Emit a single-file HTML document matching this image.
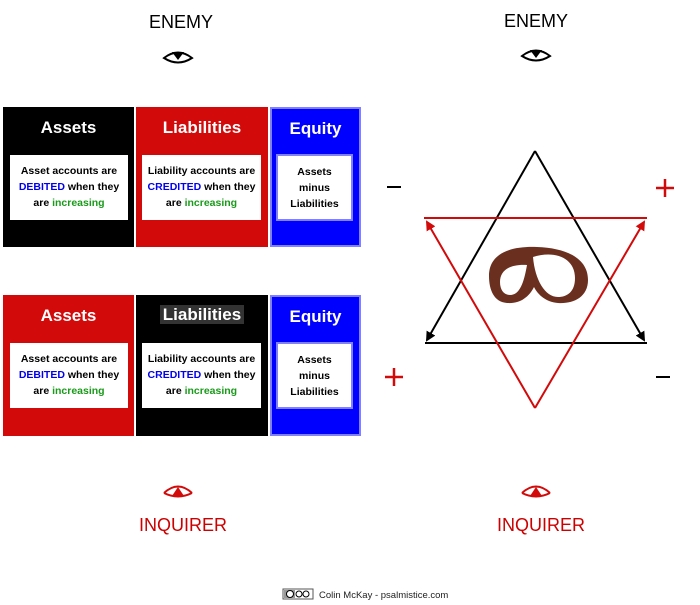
<!DOCTYPE html>
<html><head><meta charset="utf-8"><style>
body{margin:0;width:700px;height:605px;background:#fff;position:relative;font-family:"Liberation Sans",sans-serif;overflow:hidden}
.b{position:absolute}
.col{position:absolute;box-sizing:border-box}
.h{position:absolute;left:0;right:0;text-align:center;color:#fff;font-weight:bold;font-size:17px}
.in{position:absolute;background:#fff;text-align:center;font-size:10.5px;font-weight:bold;line-height:16px;color:#000;box-sizing:border-box;display:block;padding-top:8px;white-space:nowrap}
.bl{color:#0000ee}.gr{color:#1a9a1a}
.t{position:absolute;font-size:18px;text-align:center;width:200px}
</style></head><body>
<div class="t" style="left:81px;top:12px;color:#000">ENEMY</div>
<div class="t" style="left:436px;top:11px;color:#000">ENEMY</div>
<div class="t" style="left:83px;top:515px;color:#cc0000">INQUIRER</div>
<div class="t" style="left:441px;top:515px;color:#cc0000">INQUIRER</div>

<div class="col" style="left:3px;top:107px;width:131px;height:140px;background:#000"><div class="h" style="top:11px">Assets</div>
<div class="in" style="left:7px;top:48px;width:118px;height:65px">Asset accounts are<br><span class="bl">DEBITED</span> when they<br>are <span class="gr">increasing</span></div></div>
<div class="col" style="left:136px;top:107px;width:132px;height:140px;background:#d20a0a"><div class="h" style="top:11px">Liabilities</div>
<div class="in" style="left:6px;top:48px;width:119px;height:65px">Liability accounts are<br><span class="bl">CREDITED</span> when they<br>are <span class="gr">increasing</span></div></div>
<div class="col" style="left:270px;top:107px;width:91px;height:140px;background:#0000ff;border:2px solid #8080ff"><div class="h" style="top:10px">Equity</div>
<div class="in" style="left:4px;top:45px;width:77px;height:67px;border:2px solid #8080ff">Assets<br>minus<br>Liabilities</div></div>

<div class="col" style="left:3px;top:295px;width:131px;height:141px;background:#d20a0a"><div class="h" style="top:11px">Assets</div>
<div class="in" style="left:7px;top:48px;width:118px;height:65px">Asset accounts are<br><span class="bl">DEBITED</span> when they<br>are <span class="gr">increasing</span></div></div>
<div class="col" style="left:136px;top:295px;width:132px;height:141px;background:#000"><div class="h" style="top:10px"><span style="background:#333;padding:0 3px">Liabilities</span></div>
<div class="in" style="left:6px;top:48px;width:119px;height:65px">Liability accounts are<br><span class="bl">CREDITED</span> when they<br>are <span class="gr">increasing</span></div></div>
<div class="col" style="left:270px;top:295px;width:91px;height:141px;background:#0000ff;border:2px solid #8080ff"><div class="h" style="top:10px">Equity</div>
<div class="in" style="left:4px;top:45px;width:77px;height:67px;border:2px solid #8080ff">Assets<br>minus<br>Liabilities</div></div>

<svg class="b" style="left:0;top:0" width="700" height="605">
<defs>
<marker id="ak" markerWidth="10" markerHeight="10" refX="8" refY="5" orient="auto" markerUnits="userSpaceOnUse"><path d="M0,0 L10,5 L0,10 Z" fill="#000"/></marker>
<marker id="ar" markerWidth="10" markerHeight="10" refX="8" refY="5" orient="auto" markerUnits="userSpaceOnUse"><path d="M0,0 L10,5 L0,10 Z" fill="#d20a0a"/></marker>
</defs>
<g fill="none" stroke="#000" stroke-width="2">
<path d="M164,58 Q178,47 192,58 Q178,67 164,58Z"/><path d="M522,56 Q536,45 550,56 Q536,65 522,56Z"/></g>
<path d="M172,52 L184,52 L178,60Z" fill="#000"/><path d="M530,50 L542,50 L536,58Z" fill="#000"/>
<g fill="none" stroke="#d20a0a" stroke-width="2">
<path d="M164,493 Q178,480 192,493"/><path d="M522,493 Q536,480 550,493"/><path d="M164,493 Q178,500 192,493"/><path d="M522,493 Q536,500 550,493"/></g>
<path d="M172,496 L184,496 L178,487Z" fill="#d20a0a"/><path d="M530,496 L542,496 L536,487Z" fill="#d20a0a"/>
<g fill="none" stroke-width="2">
<path d="M425,343 L647,343" stroke="#000"/>
<path d="M535,151 L427,340" stroke="#000" marker-end="url(#ak)"/>
<path d="M535,151 L644,340" stroke="#000" marker-end="url(#ak)"/>
<path d="M424,218 L647,218" stroke="#d20a0a"/>
<path d="M535,408 L427,222" stroke="#d20a0a" marker-end="url(#ar)"/>
<path d="M535,408 L644,222" stroke="#d20a0a" marker-end="url(#ar)"/>
</g>
<path fill-rule="evenodd" fill="#6b2f1f" d="M489,276 C489,252 513,246 537,247 C566,248 588,258 588,280 C588,298 572,304 558,303 C546,302 538,295 534,287 C529,297 520,304 507,303 C494,302 489,290 489,276 Z
M500,282 C500,270 510,264 527,265 C524,282 520,295 510,295 C504,295 500,290 500,282 Z
M533,257 C555,250 575,258 575,278 C575,292 567,297 558,297 C545,297 535,280 533,257 Z"/>
<g stroke-width="2"><path d="M387,187 L401,187" stroke="#000"/><path d="M656,377 L670,377" stroke="#000"/></g>
<g stroke-width="2.5"><path d="M656,188 L674,188 M665,179 L665,197" stroke="#d20a0a"/><path d="M385,377 L403,377 M394,368 L394,386" stroke="#d20a0a"/></g>
<rect x="283" y="589" width="30" height="10" fill="#fff" stroke="#555"/>
<rect x="284" y="590" width="11" height="8" fill="#999"/>
<circle cx="290" cy="594" r="3.5" fill="#fff" stroke="#000"/><circle cx="299" cy="594" r="3" fill="#fff" stroke="#000"/><circle cx="306" cy="594" r="3" fill="#fff" stroke="#000"/>
<text x="319" y="598" font-size="9.5" font-family="Liberation Sans" fill="#222">Colin McKay - psalmistice.com</text>
</svg>
</body></html>
